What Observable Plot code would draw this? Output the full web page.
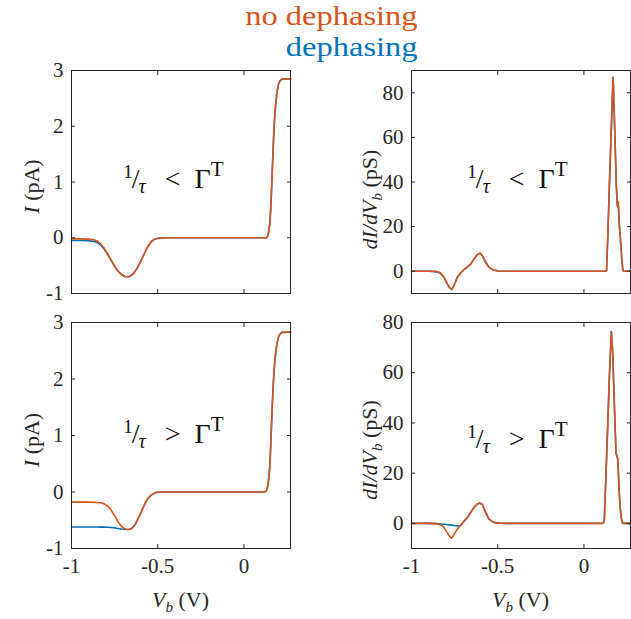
<!DOCTYPE html>
<html>
<head>
<meta charset="utf-8">
<script src="https://cdn.jsdelivr.net/npm/d3@7"></script>
<script src="https://cdn.jsdelivr.net/npm/@observablehq/plot@0.6"></script>
<style>
  body { margin: 0; background: #fff; }
  #fig { position: relative; width: 631px; height: 619px; overflow: hidden; font-family: "Liberation Serif", "Times New Roman", serif; }
  #fig svg { position: absolute; left: 0; top: 0; }
  .leg { position: absolute; right: 213px; font-family: "Liberation Serif", serif; font-size: 28px; line-height: 31px; white-space: nowrap; z-index: 2; transform: scaleX(1.16); transform-origin: right center; }
</style>
</head>
<body>
<div id="fig">
  <div class="leg" style="top:0px;color:#D95319">no dephasing</div>
  <div class="leg" style="top:31px;color:#0072BD">dephasing</div>
</div>
<script>
// Shared axes
const xDomain = [-1, 0.27];
const xTicks = [-1, -0.5, 0];
const xTickLabels = ["-1", "-0.5", "0"];
const currentTicks = [-1, 0, 1, 2, 3];
const currentTickLabels = ["-1", "0", "1", "2", "3"];
const conductanceTicks = [0, 20, 40, 60, 80];
const conductanceTickLabels = ["0", "20", "40", "60", "80"];

// Top row: 1/tau < Gamma^T — current I (pA) vs bias Vb (V)
const topCurrentV = [-1, -0.95, -0.9, -0.87, -0.85, -0.83, -0.81, -0.79, -0.77, -0.75, -0.73, -0.71, -0.69, -0.675, -0.66, -0.64, -0.62, -0.6, -0.58, -0.56, -0.54, -0.52, -0.5, -0.45, 0, 0.13, 0.14, 0.15, 0.155, 0.16, 0.165, 0.17, 0.175, 0.18, 0.19, 0.2, 0.21, 0.22, 0.27];
const topCurrentNoDeph = [-0.02, -0.02, -0.025, -0.035, -0.06, -0.11, -0.19, -0.29, -0.4, -0.51, -0.6, -0.66, -0.695, -0.7, -0.69, -0.64, -0.55, -0.43, -0.3, -0.17, -0.08, -0.03, -0.01, 0, 0, 0, 0.04, 0.25, 0.5, 0.85, 1.25, 1.65, 1.98, 2.25, 2.58, 2.75, 2.82, 2.845, 2.85];
const topCurrentDeph = [-0.05, -0.05, -0.055, -0.065, -0.085, -0.13, -0.205, -0.3, -0.405, -0.513, -0.6, -0.66, -0.695, -0.7, -0.69, -0.64, -0.55, -0.43, -0.3, -0.17, -0.08, -0.03, -0.01, 0, 0, 0, 0.04, 0.25, 0.5, 0.85, 1.25, 1.65, 1.98, 2.25, 2.58, 2.75, 2.82, 2.845, 2.85];

// Top row: differential conductance dI/dVb (pS)
const topCondV = [-1, -0.9, -0.86, -0.845, -0.831, -0.812, -0.793, -0.78, -0.767, -0.754, -0.734, -0.715, -0.696, -0.676, -0.657, -0.638, -0.618, -0.603, -0.589, -0.57, -0.551, -0.531, -0.5, -0.47, 0, 0.12, 0.131, 0.138, 0.147, 0.157, 0.163, 0.169, 0.176, 0.182, 0.188, 0.193, 0.196, 0.199, 0.205, 0.21, 0.215, 0.22, 0.225, 0.23, 0.27];
const topCondNoDeph = [0, 0, -0.1, -0.3, -0.8, -2.7, -5.6, -7.3, -8.2, -6.5, -2.7, -0.8, 0.7, 1.8, 3.2, 5.4, 7.5, 8.1, 6.9, 4.0, 1.8, 0.7, 0.1, 0, 0, 0, 0.3, 14.7, 37, 60, 74, 87, 70, 54, 38, 30, 29, 31, 21, 16, 10.6, 5, 0.8, 0, 0];
const topCondDeph = [0, 0, -0.2, -0.45, -1.0, -2.8, -5.6, -7.3, -8.2, -6.5, -2.7, -0.8, 0.7, 1.8, 3.2, 5.4, 7.5, 8.1, 6.9, 4.0, 1.8, 0.7, 0.1, 0, 0, 0, 0.3, 14.7, 37, 60, 74, 87, 70, 54, 38, 30, 29, 31, 21, 16, 10.6, 5, 0.8, 0, 0];

// Bottom row: 1/tau > Gamma^T — current
const botCurrentV = [-1, -0.9, -0.85, -0.83, -0.81, -0.79, -0.77, -0.75, -0.73, -0.71, -0.69, -0.675, -0.66, -0.645, -0.63, -0.615, -0.6, -0.585, -0.57, -0.555, -0.54, -0.525, -0.51, -0.49, -0.45, 0, 0.12, 0.13, 0.14, 0.15, 0.155, 0.16, 0.165, 0.17, 0.175, 0.18, 0.19, 0.2, 0.21, 0.22, 0.27];
const botCurrentNoDeph = [-0.18, -0.18, -0.185, -0.19, -0.21, -0.25, -0.32, -0.42, -0.53, -0.61, -0.655, -0.665, -0.66, -0.63, -0.57, -0.48, -0.38, -0.28, -0.18, -0.11, -0.06, -0.03, -0.01, 0, 0, 0, 0, 0.02, 0.12, 0.45, 0.8, 1.2, 1.58, 1.9, 2.15, 2.35, 2.6, 2.74, 2.8, 2.825, 2.83];
const botCurrentDeph = [-0.62, -0.62, -0.62, -0.621, -0.622, -0.624, -0.628, -0.635, -0.645, -0.655, -0.662, -0.665, -0.66, -0.63, -0.57, -0.48, -0.38, -0.28, -0.18, -0.11, -0.06, -0.03, -0.01, 0, 0, 0, 0, 0.02, 0.12, 0.45, 0.8, 1.2, 1.58, 1.9, 2.15, 2.35, 2.6, 2.74, 2.8, 2.825, 2.83];

// Bottom row: differential conductance
const botCondV = [-1, -0.9, -0.86, -0.84, -0.825, -0.812, -0.8, -0.785, -0.769, -0.754, -0.734, -0.715, -0.705, -0.696, -0.676, -0.657, -0.637, -0.618, -0.605, -0.589, -0.57, -0.551, -0.531, -0.51, -0.48, -0.45, 0, 0.11, 0.118, 0.128, 0.138, 0.147, 0.159, 0.167, 0.176, 0.186, 0.192, 0.196, 0.2, 0.205, 0.21, 0.215, 0.22, 0.225, 0.23, 0.27];
const botCondNoDeph = [0, 0, -0.1, -0.4, -0.9, -1.6, -3.0, -4.6, -5.9, -4.5, -2.3, -0.7, 0.05, 0.8, 2.4, 4.4, 6.4, 7.7, 8.1, 7.5, 4.4, 1.7, 0.7, 0.2, 0.05, 0, 0, 0, 1, 20, 39, 57.6, 76.4, 68, 48, 28, 26.5, 25.6, 20, 12, 6.5, 2.8, 0.8, 0, 0, 0];
const botCondDeph = [0, 0, -0.1, -0.2, -0.3, -0.35, -0.45, -0.55, -0.7, -0.85, -1.0, -0.9, 0.0, 0.8, 2.4, 4.4, 6.4, 7.7, 8.1, 7.5, 4.4, 1.7, 0.7, 0.2, 0.05, 0, 0, 0, 1, 20, 39, 57.6, 76.4, 68, 48, 28, 26.5, 25.6, 20, 12, 6.5, 2.8, 0.8, 0, 0, 0];

const BLUE = "#0072BD", ORANGE = "#D95319", INK = "#262626";
const FONT = "'Liberation Serif', serif";
const W = 631, H = 619;
const fig = document.getElementById("fig");

function panel({frame, V, deph, noDeph, yDomain, yTicks, yTickLabels, showX, ylabel, note}) {
  const [left, top, right, bottom] = frame;
  const fmt = (ticks, labels) => d => labels[ticks.indexOf(d)];
  const plot = Plot.plot({
    width: W, height: H,
    marginLeft: left, marginTop: top, marginRight: W - right, marginBottom: H - bottom,
    style: {background: "transparent", fontFamily: FONT, fontSize: "21px", color: INK, overflow: "visible"},
    x: {domain: xDomain},
    y: {domain: yDomain},
    marks: [
      Plot.line(deph, {x: V, y: deph, stroke: BLUE, strokeWidth: 1.6}),
      Plot.line(noDeph, {x: V, y: noDeph, stroke: ORANGE, strokeWidth: 1.6}),
      Plot.frame({stroke: INK, strokeWidth: 1}),
      Plot.axisX({anchor: "bottom", ticks: xTicks, tickSize: -4, tickPadding: 14, label: null,
        tickFormat: showX ? fmt(xTicks, xTickLabels) : () => ""}),
      Plot.axisX({anchor: "top", ticks: xTicks, tickSize: -4, label: null, tickFormat: () => ""}),
      Plot.axisY({anchor: "left", ticks: yTicks, tickSize: -4, tickPadding: 12, label: null,
        tickFormat: fmt(yTicks, yTickLabels)}),
      Plot.axisY({anchor: "right", ticks: yTicks, tickSize: -4, label: null, tickFormat: () => ""})
    ]
  });
  fig.appendChild(plot);
  const svg = d3.select(plot);
  const sx = plot.scale("x"), sy = plot.scale("y");

  // regime annotation: 1/tau compared with Gamma^T
  const t = svg.append("text")
    .attr("x", sx.apply(note.x) - 54).attr("y", sy.apply(note.y))
    .attr("text-anchor", "start")
    .attr("font-family", FONT).attr("font-size", 28).attr("fill", "#111");
  t.append("tspan").attr("font-size", 19).attr("dy", -10).text("1");
  t.append("tspan").attr("dy", 10).attr("dx", -1).text("/");
  t.append("tspan").attr("font-size", 20).attr("font-style", "italic").attr("dy", 5).attr("dx", -1).text("τ");
  t.append("tspan").attr("dy", -5).attr("dx", 19).text(note.rel);
  t.append("tspan").attr("dx", 14).text("Γ");
  t.append("tspan").attr("font-size", 21).attr("dy", -12).attr("dx", 0).text("T");

  // y-axis label
  const ly = svg.append("text")
    .attr("transform", `translate(${ylabel.x},${(top + bottom) / 2 + ylabel.shift}) rotate(-90)`)
    .attr("text-anchor", "middle").attr("font-family", FONT).attr("font-size", 22).attr("fill", INK);
  if (ylabel.kind === "current") {
    ly.append("tspan").attr("font-style", "italic").text("I");
    ly.append("tspan").text(" (pA)");
  } else {
    ly.append("tspan").attr("font-style", "italic").text("dI/dV");
    ly.append("tspan").attr("font-style", "italic").attr("font-size", 15).attr("dy", 5).text("b");
    ly.append("tspan").attr("dy", -5).text(" (pS)");
  }

  // x-axis label
  if (showX) {
    const lx = svg.append("text")
      .attr("x", (left + right) / 2).attr("y", 607)
      .attr("text-anchor", "middle").attr("font-family", FONT).attr("font-size", 22).attr("fill", INK);
    lx.append("tspan").attr("font-style", "italic").text("V");
    lx.append("tspan").attr("font-style", "italic").attr("font-size", 15).attr("dy", 5).text("b");
    lx.append("tspan").attr("dy", -5).text(" (V)");
  }
}

panel({frame: [71, 70, 290, 293], V: topCurrentV, deph: topCurrentDeph, noDeph: topCurrentNoDeph,
  yDomain: [-1, 3], yTicks: currentTicks, yTickLabels: currentTickLabels, showX: false,
  ylabel: {kind: "current", x: 39, shift: 5}, note: {x: -0.384, y: 0.88, rel: "<"}});
panel({frame: [411, 70, 630, 293], V: topCondV, deph: topCondDeph, noDeph: topCondNoDeph,
  yDomain: [-10, 90], yTicks: conductanceTicks, yTickLabels: conductanceTickLabels, showX: false,
  ylabel: {kind: "cond", x: 377, shift: 18}, note: {x: -0.36, y: 37, rel: "<"}});
panel({frame: [71, 322, 290, 548], V: botCurrentV, deph: botCurrentDeph, noDeph: botCurrentNoDeph,
  yDomain: [-1, 3], yTicks: currentTicks, yTickLabels: currentTickLabels, showX: true,
  ylabel: {kind: "current", x: 39, shift: 5}, note: {x: -0.384, y: 0.85, rel: ">"}});
panel({frame: [411, 322, 630, 548], V: botCondV, deph: botCondDeph, noDeph: botCondNoDeph,
  yDomain: [-10, 80], yTicks: conductanceTicks, yTickLabels: conductanceTickLabels, showX: true,
  ylabel: {kind: "cond", x: 377, shift: 15}, note: {x: -0.36, y: 30, rel: ">"}});
</script>
</body>
</html>
